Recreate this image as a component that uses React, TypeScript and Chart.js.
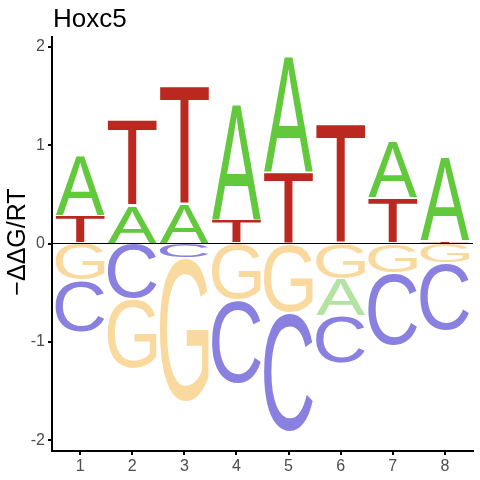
import React, { useEffect, useRef } from 'react';
import { Chart, registerables } from 'chart.js';

Chart.register(...registerables);

// energy logo values (ddG/RT) per position, one array per base
const positions = [1, 2, 3, 4, 5, 6, 7, 8];
const ddgA = [0.61, 0.385, 0.4, 1.17, 1.18, -0.38, 0.57, 0.85];
const ddgC = [-0.53, -0.56, -0.15, -0.85, -1.21, -0.48, -0.74, -0.69];
const ddgG = [-0.37, -0.71, -1.46, -0.575, -0.7, -0.36, -0.3, -0.2];
const ddgT = [0.28, 0.88, 1.21, 0.24, 0.73, 1.215, 0.466, 0.03];
const yTicks = [-2, -1, 0, 1, 2];

const FONT = '"Liberation Sans", Arial, sans-serif';

// [above zero, below zero]
const letterColors: Record<string, string[]> = {
  A: ['#61C93B', '#B3E3A2'],
  C: ['#8A80E0', '#8A80E0'],
  G: ['#F9D99E', '#F9D99E'],
  T: ['#BA2820', '#BA2820'],
};

const drawLetter = (ctx, L, left, top, w, h) => {
  if (h < 0.5) return;
  ctx.font = '100px ' + FONT;
  ctx.textAlign = 'left';
  ctx.textBaseline = 'alphabetic';
  const m = ctx.measureText(L);
  const gw = m.actualBoundingBoxLeft + m.actualBoundingBoxRight;
  const gh = m.actualBoundingBoxAscent + m.actualBoundingBoxDescent;
  ctx.save();
  ctx.translate(left, top);
  ctx.scale(w / gw, h / gh);
  ctx.fillText(L, m.actualBoundingBoxLeft, m.actualBoundingBoxAscent);
  ctx.restore();
};

const logoPlugin = {
  id: 'logo',
  afterDatasetsDraw(chart) {
    const { ctx, chartArea } = chart;
    const xs = chart.scales.x;
    const ys = chart.scales.y;
    const halfW = 0.47;
    ctx.save();
    positions.forEach((p, i) => {
      const items = chart.data.datasets.map((ds) => ({ L: ds.label, v: ds.data[i].y }));
      const left = xs.getPixelForValue(p - halfW);
      const w = xs.getPixelForValue(p + halfW) - left;
      const pos = items.filter((d) => d.v > 0).sort((a, b) => a.v - b.v);
      const neg = items.filter((d) => d.v < 0).sort((a, b) => b.v - a.v);
      let cum = 0;
      pos.forEach((d) => {
        const y0 = ys.getPixelForValue(cum);
        const y1 = ys.getPixelForValue(cum + d.v);
        ctx.fillStyle = letterColors[d.L][0];
        drawLetter(ctx, d.L, left, y1 + 0.8, w, y0 - y1 - 1.6);
        cum += d.v;
      });
      cum = 0;
      neg.forEach((d) => {
        const y0 = ys.getPixelForValue(cum);
        const y1 = ys.getPixelForValue(cum + d.v);
        ctx.fillStyle = letterColors[d.L][1];
        drawLetter(ctx, d.L, left, y0 + 0.8, w, y1 - y0 - 1.6);
        cum += d.v;
      });
    });
    // zero line
    const z = ys.getPixelForValue(0);
    ctx.strokeStyle = '#000';
    ctx.lineWidth = 1;
    ctx.beginPath();
    ctx.moveTo(chartArea.left, z);
    ctx.lineTo(chartArea.right, z);
    ctx.stroke();
    ctx.restore();
  },
  afterDraw(chart) {
    const { ctx, chartArea } = chart;
    ctx.save();
    ctx.fillStyle = '#000';
    ctx.font = '26px ' + FONT;
    ctx.textAlign = 'left';
    ctx.textBaseline = 'alphabetic';
    ctx.fillText('Hoxc5', chartArea.left + 1, 27);
    ctx.translate(25, (chartArea.top + chartArea.bottom) / 2 - 2);
    ctx.rotate(-Math.PI / 2);
    ctx.textAlign = 'center';
    ctx.font = '25px ' + FONT;
    ctx.fillText('\u2212\u0394\u0394G/RT', 0, 0);
    ctx.restore();
  },
};

const App: React.FC = () => {
  const chartRef = useRef<HTMLCanvasElement>(null);

  useEffect(() => {
    const mk = (vals: number[]) => positions.map((p, i) => ({ x: p, y: vals[i] }));
    const config: any = {
      type: 'scatter',
      data: {
        datasets: [
          { label: 'A', data: mk(ddgA), pointRadius: 0 },
          { label: 'C', data: mk(ddgC), pointRadius: 0 },
          { label: 'G', data: mk(ddgG), pointRadius: 0 },
          { label: 'T', data: mk(ddgT), pointRadius: 0 },
        ],
      },
      options: {
        animation: false,
        responsive: false,
        layout: { padding: { top: 37, right: 7, left: 0, bottom: 0 } },
        plugins: {
          legend: { display: false },
          tooltip: { enabled: false },
        },
        scales: {
          x: {
            type: 'linear',
            min: 0.46,
            max: 8.54,
            afterBuildTicks: (s) => {
              s.ticks = positions.map((v) => ({ value: v }));
            },
            afterFit: (s) => {
              s.height = 29;
            },
            ticks: {
              color: '#4D4D4D',
              font: { family: FONT, size: 16 },
              padding: 2,
              maxRotation: 0,
            },
            grid: { drawOnChartArea: false, drawTicks: true, tickLength: 4, color: '#000', lineWidth: 2 },
            border: { display: true, color: '#000', width: 2 },
          },
          y: {
            type: 'linear',
            min: -2.11,
            max: 2.1,
            afterBuildTicks: (s) => {
              s.ticks = yTicks.map((v) => ({ value: v }));
            },
            afterFit: (s) => {
              s.width = 52;
            },
            ticks: {
              color: '#4D4D4D',
              font: { family: FONT, size: 16 },
              padding: 3,
            },
            grid: { drawOnChartArea: false, drawTicks: true, tickLength: 4, color: '#000', lineWidth: 2 },
            border: { display: true, color: '#000', width: 2 },
          },
        },
      },
      plugins: [logoPlugin],
    };

    const myChart = new Chart(chartRef.current, config);
    return () => {
      myChart.destroy();
    };
  }, []);

  return (
    <div style={{ position: 'absolute', left: 0, top: 0, width: 480, height: 480, background: '#fff' }}>
      <canvas ref={chartRef} width={480} height={480}></canvas>
    </div>
  );
};

export default App;
